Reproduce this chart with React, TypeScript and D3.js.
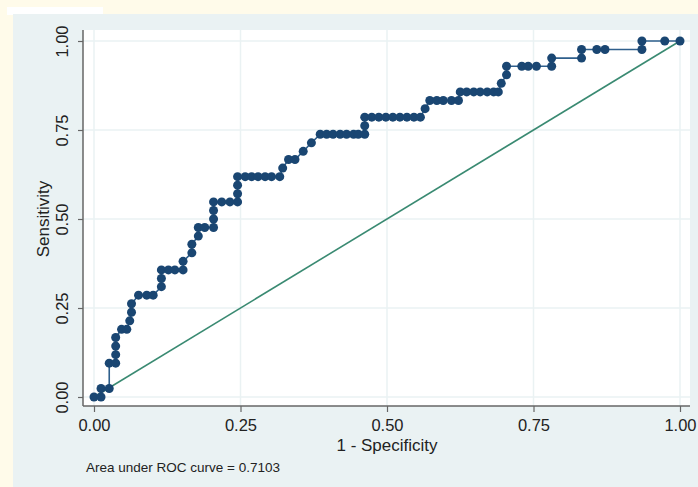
import React, { useEffect, useRef } from 'react';
import * as d3 from 'd3';

// ROC points (1 - specificity, sensitivity)
const fpr = [
  0, 0.012, 0.012, 0.026, 0.026, 0.037, 0.037, 0.037, 0.037, 0.047,
  0.056, 0.061, 0.064, 0.064, 0.076, 0.090, 0.101, 0.115, 0.115, 0.115,
  0.127, 0.138, 0.152, 0.152, 0.167, 0.167, 0.178, 0.178, 0.189, 0.204,
  0.204, 0.204, 0.204, 0.218, 0.232, 0.245, 0.245, 0.245, 0.245, 0.258,
  0.269, 0.280, 0.292, 0.303, 0.317, 0.322, 0.332, 0.343, 0.357, 0.371,
  0.386, 0.397, 0.408, 0.420, 0.431, 0.443, 0.451, 0.462, 0.462, 0.462,
  0.474, 0.486, 0.498, 0.510, 0.522, 0.534, 0.546, 0.557, 0.565, 0.573,
  0.585, 0.596, 0.610, 0.622, 0.625, 0.636, 0.648, 0.659, 0.671, 0.682,
  0.690, 0.695, 0.704, 0.704, 0.730, 0.741, 0.755, 0.781, 0.781, 0.832,
  0.832, 0.858, 0.872, 0.935, 0.935, 0.974, 1.0
];
const sens = [
  0, 0, 0.024, 0.024, 0.095, 0.095, 0.119, 0.143, 0.167, 0.190,
  0.190, 0.214, 0.238, 0.262, 0.286, 0.286, 0.286, 0.310, 0.333, 0.357,
  0.357, 0.357, 0.357, 0.381, 0.405, 0.429, 0.452, 0.476, 0.476, 0.476,
  0.500, 0.524, 0.548, 0.548, 0.548, 0.548, 0.571, 0.595, 0.619, 0.619,
  0.619, 0.619, 0.619, 0.619, 0.619, 0.643, 0.667, 0.667, 0.690, 0.714,
  0.738, 0.738, 0.738, 0.738, 0.738, 0.738, 0.738, 0.738, 0.762, 0.786,
  0.786, 0.786, 0.786, 0.786, 0.786, 0.786, 0.786, 0.786, 0.810, 0.833,
  0.833, 0.833, 0.833, 0.833, 0.857, 0.857, 0.857, 0.857, 0.857, 0.857,
  0.857, 0.881, 0.905, 0.929, 0.929, 0.929, 0.929, 0.929, 0.952, 0.952,
  0.976, 0.976, 0.976, 0.976, 1, 1, 1
];
const ticks = [0, 0.25, 0.5, 0.75, 1];
const aucLabel = 'Area under ROC curve = 0.7103';

export default function App() {
  const ref = useRef(null);

  useEffect(() => {
    if (!ref.current) return;
    const svg = d3.select(ref.current);
    svg.selectAll('*').remove();

    const font = "'Liberation Sans', Arial, sans-serif";
    const x = d3.scaleLinear().domain([0, 1]).range([94, 680]);
    const y = d3.scaleLinear().domain([0, 1]).range([397, 41]);
    const left = 83, right = 690, top = 30, bottom = 406;

    // backgrounds
    svg.append('rect').attr('width', 698).attr('height', 487).attr('fill', '#fffbea');
    svg.append('rect').attr('x', 7).attr('y', 7).attr('width', 96).attr('height', 8).attr('fill', '#ffffff');
    svg.append('rect').attr('x', 13).attr('y', 14).attr('width', 685).attr('height', 473).attr('fill', '#eaf2f3');
    svg.append('rect').attr('x', left).attr('y', top).attr('width', right - left).attr('height', bottom - top).attr('fill', '#ffffff');

    // grid
    const grid = svg.append('g').attr('stroke', '#eaf2f3').attr('stroke-width', 1.5);
    ticks.forEach(t => {
      grid.append('line').attr('x1', x(t)).attr('x2', x(t)).attr('y1', top).attr('y2', bottom);
      grid.append('line').attr('x1', left).attr('x2', right).attr('y1', y(t)).attr('y2', y(t));
    });

    // axes
    const xAxis = svg.append('g').attr('transform', `translate(0,${bottom})`)
      .call(d3.axisBottom(x).tickValues(ticks).tickFormat(d3.format('.2f')).tickSize(6).tickPadding(7));
    xAxis.select('.domain').attr('d', `M${left},0H${right}`).attr('stroke', '#666').attr('stroke-width', 1.5);
    xAxis.selectAll('.tick line').attr('stroke', '#666').attr('stroke-width', 1.2);
    xAxis.selectAll('.tick text').attr('font-family', font).attr('font-size', 16.5).attr('fill', '#222');

    const yAxis = svg.append('g').attr('transform', `translate(${left},0)`)
      .call(d3.axisLeft(y).tickValues(ticks).tickFormat(d3.format('.2f')).tickSize(5).tickPadding(0));
    yAxis.select('.domain').attr('d', `M0,${top}V${bottom}`).attr('stroke', '#666').attr('stroke-width', 1.5);
    yAxis.selectAll('.tick line').attr('stroke', '#666').attr('stroke-width', 1.2);
    yAxis.selectAll('.tick text')
      .attr('font-family', font).attr('font-size', 16.5).attr('fill', '#222')
      .attr('x', null).attr('dy', null)
      .attr('text-anchor', 'middle')
      .attr('transform', 'translate(-15,0) rotate(-90)');

    // reference line
    svg.append('line')
      .attr('x1', x(0)).attr('y1', y(0)).attr('x2', x(1)).attr('y2', y(1))
      .attr('stroke', '#3a8a72').attr('stroke-width', 1.6);

    // ROC curve
    const pts = fpr.map((f, i) => [f, sens[i]]);
    svg.append('path')
      .datum(pts)
      .attr('fill', 'none')
      .attr('stroke', '#2f5f8c')
      .attr('stroke-width', 1.6)
      .attr('d', d3.line().x(d => x(d[0])).y(d => y(d[1])));
    svg.selectAll('.dot').data(pts).enter().append('circle')
      .attr('cx', d => x(d[0])).attr('cy', d => y(d[1])).attr('r', 4.5)
      .attr('fill', '#1a4672');

    // titles
    svg.append('text').attr('x', (x(0) + x(1)) / 2).attr('y', 451).attr('text-anchor', 'middle')
      .attr('font-family', font).attr('font-size', 17).attr('fill', '#222').text('1 - Specificity');
    svg.append('text').attr('transform', `translate(49,${(y(0) + y(1)) / 2}) rotate(-90)`).attr('text-anchor', 'middle')
      .attr('font-family', font).attr('font-size', 17).attr('fill', '#222').text('Sensitivity');
    svg.append('text').attr('x', 86).attr('y', 472)
      .attr('font-family', font).attr('font-size', 13.5).attr('fill', '#222').text(aucLabel);
  }, []);

  return (
    <svg ref={ref} width={698} height={487} style={{ position: 'absolute', left: 0, top: 0 }} />
  );
}
